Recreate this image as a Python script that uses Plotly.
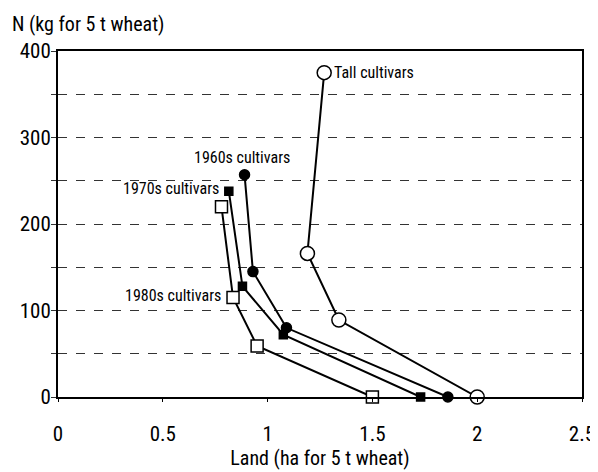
import plotly.graph_objects as go

# Data (Land ha, N kg) for 5 t wheat
tall_x = [1.27, 1.19, 1.34, 2.0]
tall_y = [375, 166, 89, 0]
s60_x = [0.89, 0.93, 1.09, 1.86]
s60_y = [257, 145, 80, 0]
s70_x = [0.815, 0.88, 1.075, 1.73]
s70_y = [238, 128, 72, 0]
s80_x = [0.78, 0.835, 0.95, 1.5]
s80_y = [220, 115, 59, 0]

x_ticks = [0, 0.5, 1, 1.5, 2, 2.5]
x_tick_labels = ["0", "0.5", "1", "1.5", "2", "2.5"]
y_ticks = [0, 100, 200, 300, 400]
y_tick_labels = ["0", "100", "200", "300", "400"]

FONT = "Roboto Condensed, DejaVu Sans Condensed, Liberation Sans, sans-serif"

fig = go.Figure()

series = [
    ("Tall cultivars", tall_x, tall_y, "circle", 14, "white"),
    ("1960s cultivars", s60_x, s60_y, "circle", 10, "black"),
    ("1970s cultivars", s70_x, s70_y, "square", 8, "black"),
    ("1980s cultivars", s80_x, s80_y, "square", 12, "white"),
]
for name, xs, ys, sym, size, fill in series:
    fig.add_trace(go.Scatter(
        x=xs, y=ys, mode="lines+markers", name=name,
        line=dict(color="black", width=2),
        marker=dict(symbol=sym, size=size, color=fill,
                    line=dict(color="black", width=1.5)),
        cliponaxis=False, showlegend=False))

ann_font = dict(family=FONT, size=16, color="black")
fig.add_annotation(x=tall_x[0], y=tall_y[0], text="Tall cultivars", showarrow=False,
                   xanchor="left", yanchor="middle", xshift=8, font=ann_font)
fig.add_annotation(x=s60_x[0], y=s60_y[0], text="1960s cultivars", showarrow=False,
                   xanchor="right", yanchor="middle", xshift=47, yshift=17, font=ann_font)
fig.add_annotation(x=s70_x[0], y=s70_y[0], text="1970s cultivars", showarrow=False,
                   xanchor="right", yanchor="middle", xshift=-8, yshift=3, font=ann_font)
fig.add_annotation(x=s80_x[1], y=s80_y[1], text="1980s cultivars", showarrow=False,
                   xanchor="right", yanchor="middle", xshift=-10, yshift=2, font=ann_font)

fig.add_annotation(x=0, y=1, xref="paper", yref="paper", text="N (kg for 5 t wheat)",
                   showarrow=False, xanchor="left", yanchor="middle", xshift=-48, yshift=27,
                   font=dict(family=FONT, size=20, color="black"))

fig.update_layout(
    width=598, height=472,
    margin=dict(l=50, r=24, t=43, b=83),
    paper_bgcolor="white", plot_bgcolor="white",
    font=dict(family=FONT, size=18, color="black"),
    xaxis=dict(range=[0, 2.5], tickvals=x_ticks, ticktext=x_tick_labels,
               tickfont=dict(family=FONT, size=21),
               showgrid=False, zeroline=False, automargin=False,
               showline=True, linecolor="black", linewidth=2, mirror=True,
               ticks="outside", ticklen=3, tickcolor="black",
               ticklabelstandoff=14,
               title=dict(text="Land (ha for 5 t wheat)", standoff=5,
                          font=dict(family=FONT, size=20))),
    yaxis=dict(range=[0, 400], tickvals=y_ticks, ticktext=y_tick_labels,
               tickfont=dict(family=FONT, size=21),
               showgrid=True, gridcolor="#333", griddash="dash", gridwidth=1,
               zeroline=False, automargin=False,
               showline=True, linecolor="black", linewidth=2, mirror=True,
               ticks="outside", ticklen=5, tickcolor="#333",
               ticklabelstandoff=-4,
               minor=dict(dtick=50, showgrid=True, gridcolor="#333",
                          griddash="dash", gridwidth=1,
                          ticks="outside", ticklen=5, tickcolor="#333")),
)

fig.write_html("out.html")
